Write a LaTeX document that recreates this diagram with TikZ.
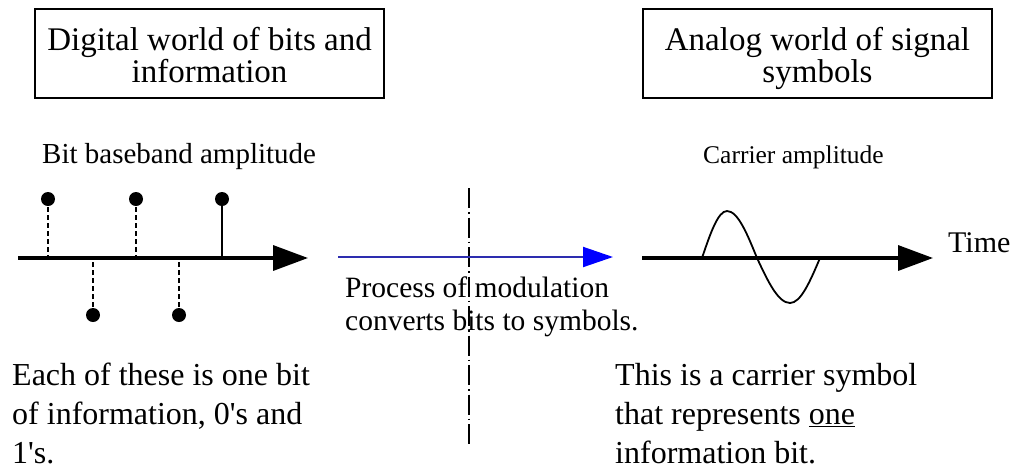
\documentclass[tikz,border=0pt]{standalone}
\usepackage{fontspec}
\setmainfont{Liberation Serif}
\usetikzlibrary{arrows.meta}
\definecolor{modline}{RGB}{45,45,175}
\definecolor{modhead}{RGB}{0,0,255}
\begin{document}
\begin{tikzpicture}[x=1pt,y=-1pt,
  box/.style={draw, line width=2pt, minimum width=349pt, minimum height=89pt, inner sep=0pt},
  boxtext/.style={inner sep=0pt, anchor=base, align=center, font=\fontsize{33}{30}\selectfont},
  lbl/.style={inner sep=0pt, anchor=base west},
  big/.style={inner sep=0pt, anchor=base west, align=left, font=\fontsize{32}{39}\selectfont},
  axis/.style={line width=3.5pt, -{Triangle[length=35pt,width=25pt]}},
  stem/.style={line width=1.8pt, dash pattern=on 5pt off 3pt},
  solidstem/.style={line width=1.8pt},
  dot/.style={circle, fill=black, inner sep=0pt, minimum size=14pt},
  divider/.style={line width=1.8pt, dash pattern=on 20pt off 4pt on 1.5pt off 4pt},
]
\useasboundingbox (0,0) rectangle (1022,472);

% boxes
\node[box] (lbox) at (209.5,53.5) {};
\node[boxtext] (ltext) at (209.5,82) {Digital world of bits and\\information};
\node[box] (rbox) at (817.5,53.5) {};
\node[boxtext] (rtext) at (817.5,82) {Analog world of signal\\symbols};

% labels
\node[lbl, font=\fontsize{29}{33}\selectfont] (bitlbl) at (42,163) {Bit baseband amplitude};
\node[lbl, font=\fontsize{25.5}{33}\selectfont] (carlbl) at (703,163) {Carrier amplitude};
\node[lbl, font=\fontsize{30}{33}\selectfont] (time) at (948,252) {Time};

% left axis with bits
\coordinate (L0) at (18,258);
\coordinate (L1) at (308,258);
\coordinate (a1) at (48,258);
\coordinate (a2) at (93,258);
\coordinate (a3) at (136,258);
\coordinate (a4) at (179,258);
\coordinate (a5) at (222,258);
\node[dot] (d1) at (48,199) {};
\node[dot] (d2) at (93,315) {};
\node[dot] (d3) at (136,199) {};
\node[dot] (d4) at (179,315) {};
\node[dot] (d5) at (222,199) {};
\draw[stem] (d1.center) -- (a1);
\draw[stem] (d2.center) -- (a2);
\draw[stem] (d3.center) -- (a3);
\draw[stem] (d4.center) -- (a4);
\draw[solidstem] (d5.center) -- (a5);
\draw[axis] (L0) -- (L1);

% divider
\coordinate (D0) at (469,188);
\coordinate (D1) at (469,447);
\draw[divider] (D0) -- (D1);

% modulation arrow
\coordinate (B0) at (338,257);
\coordinate (B1) at (613,257);
\draw[line width=2pt, modline, -{Triangle[length=30pt,width=20pt,color=modhead]}] (B0) -- (B1);
\node[lbl, align=left, font=\fontsize{29.5}{33}\selectfont] (proc) at (345,330) {Process of modulation\\converts bits to symbols.};

% right axis with carrier
\coordinate (R0) at (642,258);
\coordinate (R1) at (933,258);
\draw[line width=1.8pt] (702,258) sin (727,211) cos (757,258) sin (790,303) cos (820,258);
\draw[axis] (R0) -- (R1);

% bottom texts
\node[big] (each) at (12,463) {Each of these is one bit\\of information, 0\textquotesingle s and\\1\textquotesingle s.};
\node[big] (this) at (615,463) {This is a carrier symbol\\that represents \underline{one}\\information bit.};
\end{tikzpicture}
\end{document}
